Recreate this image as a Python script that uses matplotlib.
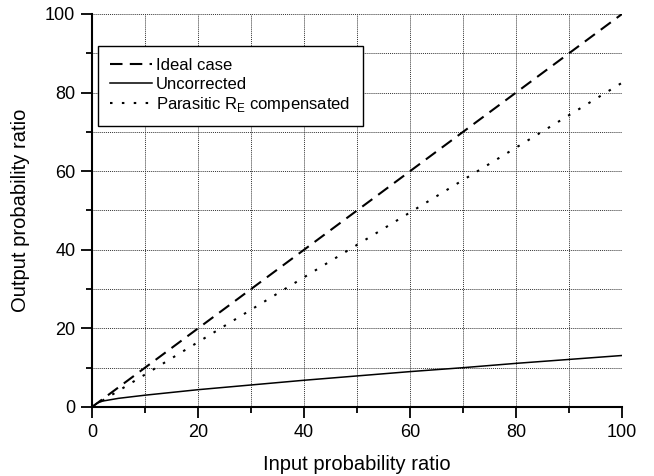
import matplotlib.pyplot as plt
from matplotlib.ticker import MultipleLocator

plt.rcParams['font.family'] = ['Liberation Sans', 'DejaVu Sans']

x_ideal = [0, 100]
y_ideal = [0, 100]

x_unc = [0, 1, 2, 5, 10, 20, 30, 40, 50, 60, 70, 80, 90, 100]
y_unc = [0, 1.0, 1.5, 2.2, 3.0, 4.4, 5.6, 6.8, 7.9, 9.0, 10.0, 11.1, 12.1, 13.1]

x_par = [0, 100]
y_par = [0, 82.5]

fig = plt.figure(figsize=(6.54, 4.76), dpi=100)
ax = fig.add_axes([0.1407, 0.145, 0.8104, 0.8256])

ax.plot(x_ideal, y_ideal, color='black', linestyle=(0, (6, 3.5)), linewidth=1.5, label='Ideal case')
ax.plot(x_unc, y_unc, color='black', linestyle='-', linewidth=1.1, label='Uncorrected')
ax.plot(x_par, y_par, color='black', linestyle=(0, (1.2, 4.5)), linewidth=1.5,
        label='Parasitic R$_\\mathregular{E}$ compensated')

ax.set_xlim(0, 100)
ax.set_ylim(0, 100)
ax.xaxis.set_major_locator(MultipleLocator(20))
ax.xaxis.set_minor_locator(MultipleLocator(10))
ax.yaxis.set_major_locator(MultipleLocator(20))
ax.yaxis.set_minor_locator(MultipleLocator(10))
ax.tick_params(which='major', direction='out', length=8, width=1.3, labelsize=13, pad=4)
ax.tick_params(which='minor', direction='out', length=4, width=1.3)
ax.grid(True, which='both', color='#333333', linestyle=(0, (1, 1)), linewidth=0.7)
ax.set_axisbelow(True)

for s in ['top', 'right']:
    ax.spines[s].set_visible(False)
for s in ['left', 'bottom']:
    ax.spines[s].set_linewidth(1.5)

ax.set_xlabel('Input probability ratio', fontsize=14.5, labelpad=10)
ax.set_ylabel('Output probability ratio', fontsize=14.5, labelpad=11)

leg = ax.legend(loc='upper left', bbox_to_anchor=(0.011, 0.919), borderaxespad=0,
                fancybox=False, framealpha=1, edgecolor='black', fontsize=12,
                handlelength=2.5, borderpad=0.75, labelspacing=0.2, handletextpad=0.25)
leg.get_frame().set_linewidth(1.0)

fig.savefig('out.png', dpi=100)
